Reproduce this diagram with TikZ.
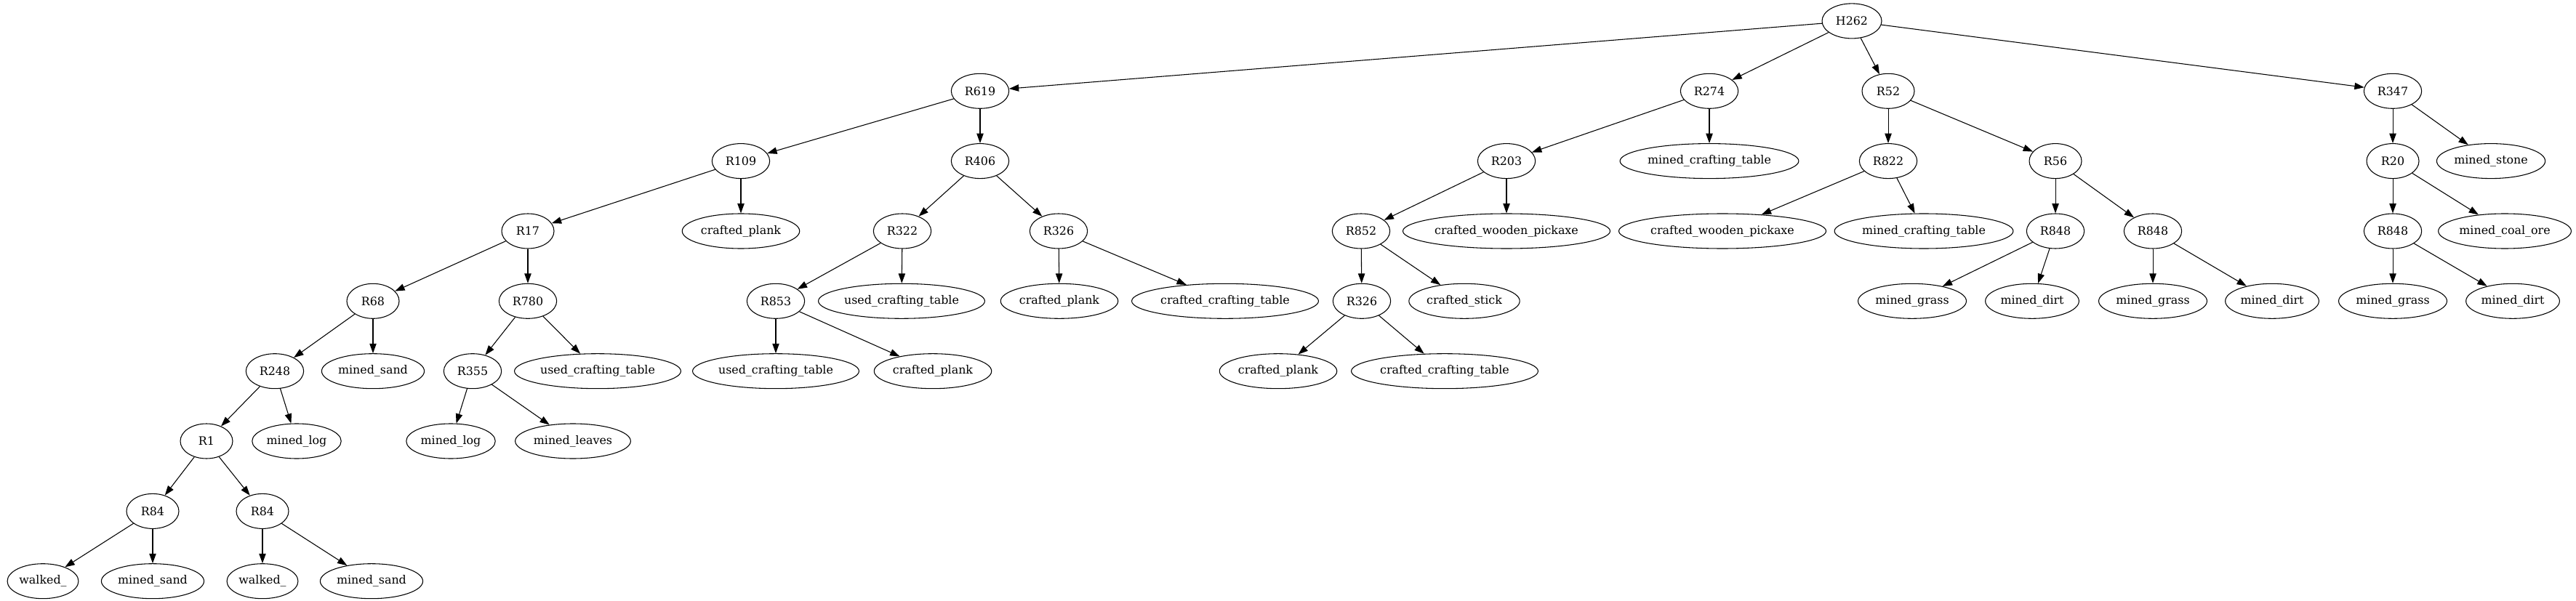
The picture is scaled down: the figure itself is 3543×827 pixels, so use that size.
\documentclass[tikz,border=0pt]{standalone}
\usepackage{fontspec}
\setmainfont{DejaVu Serif}
\usetikzlibrary{shapes.geometric,arrows.meta}
\tikzset{
  rnode/.style={draw, ellipse, line width=0.8pt, minimum width=54pt, minimum height=36pt, inner xsep=5.2pt, inner ysep=0pt, font=\fontsize{11.9}{14}\selectfont},
  leaf/.style={draw, ellipse, line width=0.8pt, minimum width=54pt, minimum height=36pt, inner xsep=1.5pt, inner ysep=0pt, font=\fontsize{11.9}{14}\selectfont},
  arr/.style={line width=0.8pt, -{Triangle[length=10pt,width=7pt]}}
}
\begin{document}
\begin{tikzpicture}[x=0.75pt, y=-0.75pt, line join=round]
\useasboundingbox (0,0) rectangle (3543,827);
% rank 0
\node[rnode] (h262) at (2547,28.9) {H262};
% rank 1
\node[rnode] (r619) at (1348,125.3) {R619};
\node[rnode] (r274) at (2351,125.3) {R274};
\node[rnode] (r52) at (2597,125.3) {R52};
\node[rnode] (r347) at (3291,125.3) {R347};
% rank 2
\node[rnode] (r109) at (1019,221.6) {R109};
\node[rnode] (r406) at (1348,221.6) {R406};
\node[rnode] (r203) at (2072,221.6) {R203};
\node[leaf] (mct1) at (2351,221.6) {mined\_crafting\_table};
\node[rnode] (r822) at (2597,221.6) {R822};
\node[rnode] (r56) at (2827,221.6) {R56};
\node[rnode] (r20) at (3291,221.6) {R20};
\node[leaf] (stone) at (3426,221.6) {mined\_stone};
% rank 3
\node[rnode] (r17) at (726,318) {R17};
\node[leaf] (plank1) at (1019,318) {crafted\_plank};
\node[rnode] (r322) at (1241,318) {R322};
\node[rnode] (r326a) at (1456,318) {R326};
\node[rnode] (r852) at (1872,318) {R852};
\node[leaf] (cwp1) at (2072,318) {crafted\_wooden\_pickaxe};
\node[leaf] (cwp2) at (2369,318) {crafted\_wooden\_pickaxe};
\node[leaf] (mct2) at (2646,318) {mined\_crafting\_table};
\node[rnode] (r848a) at (2827,318) {R848};
\node[rnode] (r848b) at (2961,318) {R848};
\node[rnode] (r848c) at (3291,318) {R848};
\node[leaf] (coal) at (3445,318) {mined\_coal\_ore};
% rank 4
\node[rnode] (r68) at (513,414.3) {R68};
\node[rnode] (r780) at (726,414.3) {R780};
\node[rnode] (r853) at (1067,414.3) {R853};
\node[leaf] (uct2) at (1240,414.3) {used\_crafting\_table};
\node[leaf] (plank3) at (1457,414.3) {crafted\_plank};
\node[leaf] (cct1) at (1685,414.3) {crafted\_crafting\_table};
\node[rnode] (r326b) at (1873,414.3) {R326};
\node[leaf] (stick) at (2014,414.3) {crafted\_stick};
\node[leaf] (grass1) at (2630,414.3) {mined\_grass};
\node[leaf] (dirt1) at (2795,414.3) {mined\_dirt};
\node[leaf] (grass2) at (2961,414.3) {mined\_grass};
\node[leaf] (dirt2) at (3125,414.3) {mined\_dirt};
\node[leaf] (grass3) at (3291,414.3) {mined\_grass};
\node[leaf] (dirt3) at (3456,414.3) {mined\_dirt};
% rank 5
\node[rnode] (r248) at (378,510.7) {R248};
\node[leaf] (sand1) at (513,510.7) {mined\_sand};
\node[rnode] (r355) at (650,510.7) {R355};
\node[leaf] (uct1) at (822,510.7) {used\_crafting\_table};
\node[leaf] (uct3) at (1067,510.7) {used\_crafting\_table};
\node[leaf] (plank2) at (1283,510.7) {crafted\_plank};
\node[leaf] (plank4) at (1758,510.7) {crafted\_plank};
\node[leaf] (cct2) at (1987,510.7) {crafted\_crafting\_table};
% rank 6
\node[rnode] (r1) at (284,607) {R1};
\node[leaf] (log1) at (408,607) {mined\_log};
\node[leaf] (log2) at (620,607) {mined\_log};
\node[leaf] (leaves) at (788,607) {mined\_leaves};
% rank 7
\node[rnode] (r84a) at (210,703.4) {R84};
\node[rnode] (r84b) at (361,703.4) {R84};
% rank 8
\node[leaf] (walk1) at (59,799.7) {walked\_};
\node[leaf] (sand2) at (210,799.7) {mined\_sand};
\node[leaf] (walk2) at (361,799.7) {walked\_};
\node[leaf] (sand3) at (511,799.7) {mined\_sand};
% edges
\path[arr] (h262) edge (r619) edge (r274) edge (r52) edge (r347);
\path[arr] (r619) edge (r109) edge (r406);
\path[arr] (r109) edge (r17) edge (plank1);
\path[arr] (r17) edge (r68) edge (r780);
\path[arr] (r68) edge (r248) edge (sand1);
\path[arr] (r248) edge (r1) edge (log1);
\path[arr] (r1) edge (r84a) edge (r84b);
\path[arr] (r84a) edge (walk1) edge (sand2);
\path[arr] (r84b) edge (walk2) edge (sand3);
\path[arr] (r780) edge (r355) edge (uct1);
\path[arr] (r355) edge (log2) edge (leaves);
\path[arr] (r406) edge (r322) edge (r326a);
\path[arr] (r322) edge (r853) edge (uct2);
\path[arr] (r853) edge (uct3) edge (plank2);
\path[arr] (r326a) edge (plank3) edge (cct1);
\path[arr] (r274) edge (r203) edge (mct1);
\path[arr] (r203) edge (r852) edge (cwp1);
\path[arr] (r852) edge (r326b) edge (stick);
\path[arr] (r326b) edge (plank4) edge (cct2);
\path[arr] (r52) edge (r822) edge (r56);
\path[arr] (r822) edge (cwp2) edge (mct2);
\path[arr] (r56) edge (r848a) edge (r848b);
\path[arr] (r848a) edge (grass1) edge (dirt1);
\path[arr] (r848b) edge (grass2) edge (dirt2);
\path[arr] (r347) edge (r20) edge (stone);
\path[arr] (r20) edge (r848c) edge (coal);
\path[arr] (r848c) edge (grass3) edge (dirt3);
\end{tikzpicture}
\end{document}
